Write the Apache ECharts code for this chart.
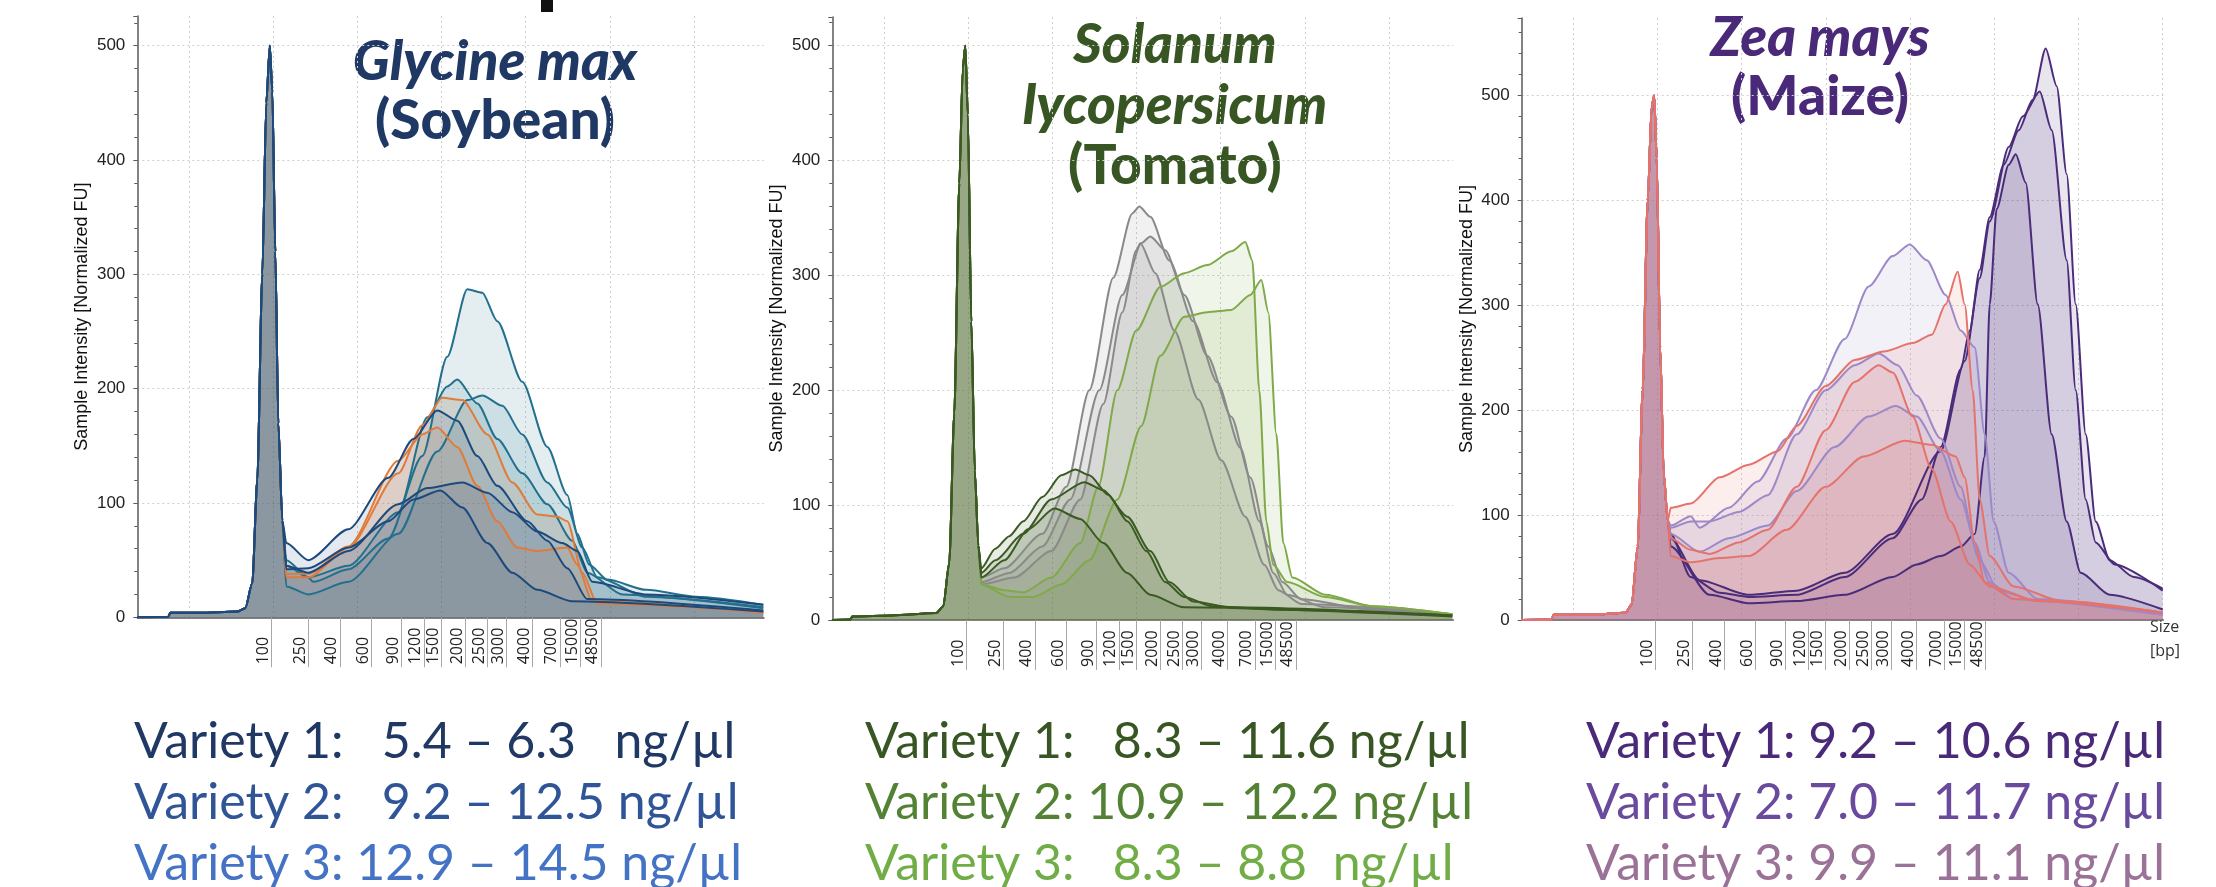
<!DOCTYPE html>
<html><head><meta charset="utf-8">
<script src="https://cdn.jsdelivr.net/npm/echarts@6/dist/echarts.min.js"></script>
<style>html,body{margin:0;padding:0;background:#fff}#c{width:2216px;height:887px}</style>
</head><body><div id="c"></div>
<script>
// ---------- DATA ----------
const ladderLabels = ['100','250','400','600','900','1200','1500','2000','2500','3000','4000','7000','15000','48500'];
const ladderPositions = [134,171,202.5,234,264,286.5,304,328,350,369.3,395,422.5,443,463.5];
const yAxisName = 'Sample Intensity [Normalized FU]';

// Soybean (Glycine max)
const soyMarker = [[0,0],[31,0.5],[33,4],[62,4],[100,5],[108,8],[115,30],[120,120],[125,300],[129,450],[132.5,500],[135,460],[138,320],[141,170],[145,85]];
const soyTeal1 = [[149,45],[171,35],[176,31],[211,42],[251,69],[285,141],[310,228],[330,287],[345,284],[360,259],[385,206],[410,149],[430,107],[440,73],[452,46],[470,33],[509,24],[559,18],[626,11]];
const soyTeal2 = [[149,50],[171,35],[211,45],[261,92],[290,175],[310,202],[320,208],[340,187],[360,156],[385,126],[410,99],[435,67],[450,39],[485,20],[626,8]];
const soyTeal3 = [[149,27],[171,20],[211,31],[261,73],[300,145],[330,190],[345,194],[365,185],[385,160],[410,118],[430,96],[445,61],[460,35],[509,18],[626,9]];
const soyOrange1 = [[149,35],[171,35],[211,61],[261,126],[285,168],[305,192],[325,190],[350,160],[375,118],[400,90],[420,88],[430,84],[445,39],[460,12],[626,5]];
const soyOrange2 = [[149,38],[171,38],[211,62],[261,137],[285,160],[300,166],[320,149],[340,115],[360,84],[380,61],[400,58],[430,61],[440,46],[455,14],[626,4]];
const soyNavy1 = [[149,65],[171,50],[211,77],[251,122],[276,156],[300,181],[320,172],[340,141],[360,115],[390,84],[410,67],[430,43],[450,16],[626,6]];
const soyNavy2 = [[149,45],[171,39],[211,58],[261,99],[290,113],[325,118],[350,109],[375,92],[400,75],[425,65],[440,58],[455,31],[509,20],[626,11]];
const soyNavy3 = [[149,42],[171,43],[211,61],[251,84],[276,103],[303,111],[325,96],[350,65],[375,39],[400,24],[435,14],[626,5]];

// Tomato (Solanum lycopersicum)
const tomMarker = [[0,0],[18,0.5],[20,3],[60,4],[104,6],[111,12],[117,50],[122,180],[127,380],[130.5,480],[133,500],[135.5,440],[139,260],[142.5,130],[146,65]];
const tomDark1 = [[149,45],[163,62],[177,73],[191,86],[210,107],[229,126],[243,131],[257,126],[276,109],[295,86],[314,60],[333,33],[352,20],[380,12],[446,9],[620,4]];
const tomDark2 = [[149,41],[163,52],[191,75],[219,105],[252,120],[271,113],[295,90],[318,60],[337,33],[361,16],[399,11],[620,4]];
const tomDark3 = [[149,37],[172,52],[196,79],[222,97],[248,88],[271,67],[295,41],[318,22],[352,11],[620,3]];
const tomGray1 = [[149,37],[172,45],[210,75],[234,116],[257,200],[281,298],[300,354],[307,360],[318,351],[337,313],[361,260],[385,207],[408,150],[427,86],[441,41],[455,22],[493,11],[620,5]];
const tomGray2 = [[149,33],[177,41],[210,64],[238,105],[267,200],[290,283],[309,328],[318,334],[333,322],[352,283],[375,230],[399,177],[418,124],[436,64],[450,33],[469,18],[540,9],[620,5]];
const tomGray3 = [[149,31],[182,37],[219,60],[248,105],[271,188],[290,268],[304,322],[308,328],[323,302],[342,252],[366,192],[389,139],[413,90],[432,48],[446,26],[469,14],[620,5]];
const tomLight1 = [[149,31],[172,26],[191,24],[219,37],[248,67],[266,116],[285,200],[304,252],[328,290],[352,302],[375,309],[399,321],[413,329],[420,313],[427,200],[434,86],[441,48],[455,33],[493,20],[540,12],[620,5]];
const tomLight2 = [[149,31],[177,20],[201,20],[229,31],[257,52],[285,105],[309,169],[328,230],[352,264],[375,268],[399,270],[418,283],[429,296],[436,268],[444,162],[451,67],[460,37],[493,22],[540,12],[620,5]];

// Maize (Zea mays)
const maiMarker = [[0,0],[30,0.5],[32,5],[70,5],[104,7],[110,15],[116,70],[121,220],[126,400],[130,490],[132.5,500],[135,440],[138.5,260],[142,140],[146,95]];
const maiDark1 = [[149,82],[169,41],[198,26],[227,22],[275,24],[323,41],[371,78],[400,115],[419,165],[439,239],[448,276],[458,334],[468,384],[482,434],[497,467],[511,496],[524,545],[535,509],[545,425],[554,301],[564,177],[574,94],[588,57],[612,41],[641,30]];
const maiDark2 = [[149,78],[178,38],[227,24],[275,28],[323,45],[371,82],[419,161],[443,247],[458,326],[468,380],[487,451],[501,480],[518,504],[530,467],[545,343],[554,219],[564,115],[574,74],[593,53],[641,28]];
const maiDark3 = [[149,70],[188,24],[227,16],[275,18],[323,24],[371,41],[395,53],[419,61],[439,70],[453,82],[463,156],[468,301],[475,392],[487,434],[494,444],[504,417],[516,301],[530,177],[545,94],[559,45],[588,24],[641,10]];
const maiLav1 = [[149,90],[169,99],[178,88],[207,107],[236,132],[265,173],[294,219],[323,268],[347,318],[371,347],[388,358],[405,343],[424,310],[439,276],[453,260],[463,177],[472,94],[487,45],[516,20],[641,7]];
const maiLav2 = [[149,88],[169,94],[188,94],[217,103],[246,119],[275,177],[304,219],[333,243],[357,254],[376,243],[395,214],[419,173],[439,127],[453,74],[468,36],[492,20],[641,5]];
const maiLav3 = [[149,82],[178,65],[207,78],[246,90],[275,123],[313,165],[347,194],[374,204],[395,194],[419,161],[439,115],[458,57],[477,28],[516,18],[641,7]];
const maiRed1 = [[149,107],[169,111],[198,136],[227,148],[256,161],[275,185],[304,223],[333,248],[362,256],[391,264],[410,272],[424,301],[436,332],[443,301],[451,219],[458,115],[468,61],[492,32],[540,18],[641,7]];
const maiRed2 = [[149,78],[169,67],[188,63],[217,74],[246,86],[275,127],[304,181],[333,227],[357,243],[371,236],[391,194],[410,144],[429,94],[448,53],[468,32],[516,18],[641,7]];
const maiRed3 = [[149,61],[169,55],[198,59],[227,61],[265,86],[304,127],[342,156],[383,171],[410,167],[434,156],[443,136],[453,74],[463,36],[492,20],[641,7]];

// Titles and concentration texts
const titles = [
  ['Glycine max', '(Soybean)'],
  ['Solanum', 'lycopersicum', '(Tomato)'],
  ['Zea mays', '(Maize)']
];
const concentrations = [
  ['Variety 1:   5.4 \u2013 6.3   ng/\u00b5l', 'Variety 2:   9.2 \u2013 12.5 ng/\u00b5l', 'Variety 3: 12.9 \u2013 14.5 ng/\u00b5l'],
  ['Variety 1:   8.3 \u2013 11.6 ng/\u00b5l', 'Variety 2: 10.9 \u2013 12.2 ng/\u00b5l', 'Variety 3:   8.3 \u2013 8.8  ng/\u00b5l'],
  ['Variety 1: 9.2 \u2013 10.6 ng/\u00b5l', 'Variety 2: 7.0 \u2013 11.7 ng/\u00b5l', 'Variety 3: 9.9 \u2013 11.1 ng/\u00b5l']
];

// ---------- LAYOUT / STYLE ----------
const panels = [
  {left:137.3, top:16, width:626.7, height:601.3, ymax:526,
   titleColor:'#1f3864', textColors:['#1f3864','#2f5597','#4472c4'], titleX:495, titleY:[62,121], textX:134,
   series:[[soyTeal1,'#23708d'],[soyTeal2,'#23708d'],[soyTeal3,'#23708d'],[soyOrange1,'#e07b39'],[soyOrange2,'#e07b39'],[soyNavy1,'#1d4a7c'],[soyNavy2,'#1d4a7c'],[soyNavy3,'#1d4a7c']], marker:soyMarker},
  {left:832.3, top:17, width:621, height:603, ymax:525,
   titleColor:'#375623', textColors:['#375623','#548235','#70ad47'], titleX:1175, titleY:[45,106,166], textX:865,
   series:[[tomGray1,'#8a8a8a'],[tomGray2,'#8a8a8a'],[tomGray3,'#8a8a8a'],[tomLight1,'#80a94a'],[tomLight2,'#80a94a'],[tomDark1,'#3a5a22'],[tomDark2,'#3a5a22'],[tomDark3,'#3a5a22']], marker:tomMarker},
  {left:1521.7, top:18, width:641.6, height:602, ymax:574,
   titleColor:'#4a2a78', textColors:['#4a2a78','#6a4a9c','#9b7297'], titleX:1820, titleY:[38,97], textX:1586,
   series:[[maiDark1,'#4b2c7a'],[maiDark2,'#4b2c7a'],[maiDark3,'#4b2c7a'],[maiLav1,'#9d88c8'],[maiLav2,'#9d88c8'],[maiLav3,'#9d88c8'],[maiRed3,'#e5736b'],[maiRed2,'#e5736b'],[maiRed1,'#e5736b']], marker:maiMarker}
];
const gridStart = 51.5, gridStep = 84.2;

const grid = [], xAxis = [], yAxis = [], series = [], graphic = [];
panels.forEach((p, i) => {
  grid.push({left:p.left, top:p.top, width:p.width, height:p.height});
  grid.push({left:p.left + gridStart, top:p.top, width:p.width - gridStart, height:p.height});
  const gMain = i*2, gLine = i*2+1;
  xAxis.push({
    type:'value', gridIndex:gMain, min:0, max:p.width,
    axisLine:{show:true, onZero:false, lineStyle:{color:'#5a5a5a', width:1.5}},
    axisTick:{show:true, customValues:ladderPositions, length:50, lineStyle:{color:'#a8a8a8', width:1}},
    axisLabel:{show:true, customValues:ladderPositions, rotate:90, align:'left', verticalAlign:'bottom', margin:47,
      fontSize:16, fontFamily:'Open Sans', color:'#222',
      formatter:(v)=>{ let k=0, d=1e9; ladderPositions.forEach((q,j)=>{ if(Math.abs(q-v)<d){d=Math.abs(q-v);k=j;} }); return ladderLabels[k]; }},
    splitLine:{show:false}
  });
  xAxis.push({
    type:'value', gridIndex:gLine, min:0, max:p.width - gridStart, interval:gridStep,
    axisLine:{show:false}, axisTick:{show:false}, axisLabel:{show:false},
    splitLine:{show:true, showMaxLine:false, lineStyle:{color:'#cfcfcf', type:[2,3], width:1}}
  });
  yAxis.push({
    type:'value', gridIndex:gMain, min:0, max:p.ymax, interval:100,
    name:yAxisName, nameLocation:'middle', nameGap:46,
    nameTextStyle:{fontSize:18, fontFamily:'Liberation Sans', color:'#111'},
    axisLine:{show:true, lineStyle:{color:'#5a5a5a', width:1.5}},
    axisTick:{show:true, length:4, lineStyle:{color:'#5a5a5a'}},
    minorTick:{show:true, splitNumber:5, length:3, lineStyle:{color:'#5a5a5a'}},
    axisLabel:{fontSize:17, fontFamily:'Liberation Sans', color:'#222', margin:12, showMaxLabel:false},
    splitLine:{show:true, showMinLine:false, showMaxLine:false, lineStyle:{color:'#cfcfcf', type:[2,3], width:1}}
  });
  yAxis.push({type:'value', gridIndex:gLine, min:0, max:p.ymax, show:false});
  p.series.forEach(([tail, color]) => {
    series.push({
      type:'line', xAxisIndex:gMain, yAxisIndex:gMain, data:p.marker.concat(tail),
      showSymbol:false, smooth:0.25, smoothMonotone:'x', silent:true,
      lineStyle:{color:color, width:2}, areaStyle:{color:color, opacity:0.12}
    });
  });
  // titles
  titles[i].forEach((t, j) => {
    const italic = j < titles[i].length - 1;
    graphic.push({type:'text', style:{text:t, x:p.titleX, y:p.titleY[j],
      font:(italic?'italic ':'') + '900 55px Lato', fill:p.titleColor, align:'center', verticalAlign:'middle'}});
  });
  concentrations[i].forEach((t, j) => {
    graphic.push({type:'text', style:{text:t, x:p.textX, y:742 + j*61,
      font:'400 50px Lato', fill:p.textColors[j], align:'left', verticalAlign:'middle'}});
  });
});
graphic.push({type:'text', style:{text:'Size', x:2150, y:627, font:'16px "Open Sans"', fill:'#333', align:'left', verticalAlign:'middle'}});
graphic.push({type:'text', style:{text:'[bp]', x:2150, y:651, font:'16px "Open Sans"', fill:'#333', align:'left', verticalAlign:'middle'}});
graphic.push({type:'rect', shape:{x:541, y:0, width:12, height:12}, style:{fill:'#111'}});

const chart = echarts.init(document.getElementById('c'), null, {renderer:'canvas'});
chart.setOption({animation:false, backgroundColor:'#fff', grid, xAxis, yAxis, series, graphic});
</script></body></html>
